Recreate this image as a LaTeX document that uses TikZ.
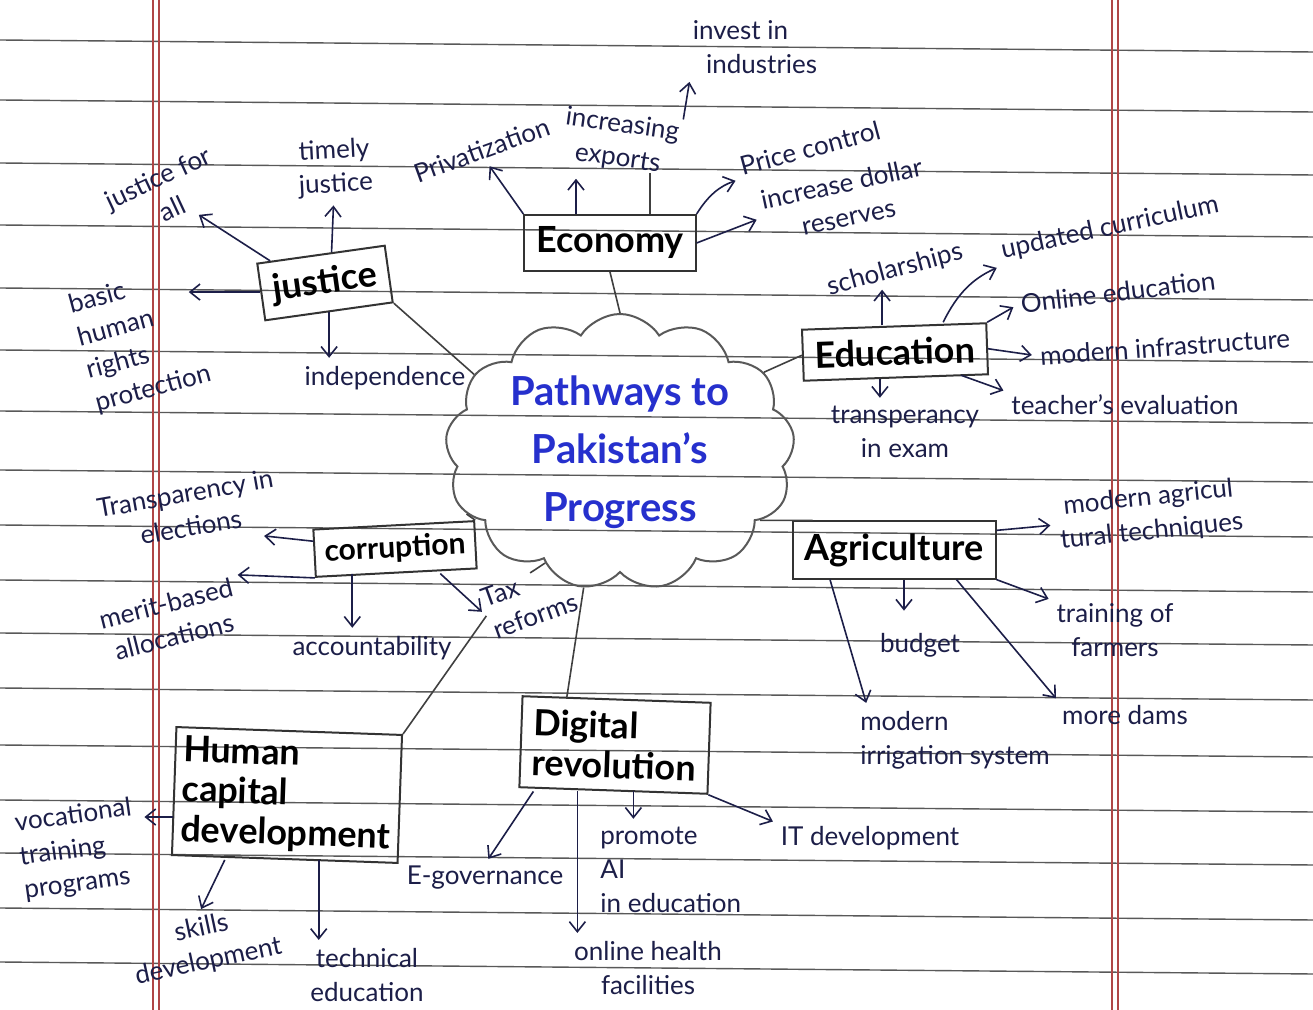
\documentclass[tikz,border=0pt]{standalone}
\usepackage{fontspec}
\setmainfont{Lato}
\usepackage{xcolor}
\usetikzlibrary{arrows.meta,%
                shapes.symbols}
\definecolor{pen}{RGB}{28,30,72}
\definecolor{inkblue}{RGB}{38,48,205}
\definecolor{marginred}{RGB}{175,70,70}

\begin{document}
\begin{tikzpicture}[x=0.5pt,y=-0.5pt,
    topic/.style={draw=black!80, line width=1pt, inner sep=6pt, align=left,
        font=\fontsize{18}{20}\selectfont\bfseries},
    leaf/.style={text=pen, inner sep=1pt, align=center,
        font=\fontsize{13}{17}\selectfont},
    link/.style={draw=black!75, line width=0.8pt},
    arr/.style={draw=pen, line width=0.8pt, shorten >=3pt,
        -{Straight Barb[length=5pt,width=8pt]}},
    ]
    \useasboundingbox (0,0) rectangle (1313,1010);
    \fill[white] (0,0) rectangle (1313,1010);
    \foreach \y in {40,100,163,225,288,350,411,470,525,580,633,688,745,800,853,908,962}
        \draw[black!65, line width=0.7pt] (0,\y) -- (1313,{\y+12});
    \foreach \x in {153,159,1112,1118}
        \draw[marginred, line width=0.6pt] (\x,0) -- (\x,1010);

    \node[cloud, cloud puffs=13, cloud puff arc=115, cloud ignores aspect,
          draw=black!65, line width=1pt, minimum width=154pt, minimum height=138pt,
          text=inkblue, align=center, font=\fontsize{20}{29}\selectfont\bfseries]
          (hub) at (620,452) {Pathways to\\Pakistan's\\Progress};

    \node[topic] (econ) at (610,243) {Economy};
    \node[topic, rotate=8] (justice) at (325,283) {justice};
    \node[topic, rotate=2] (edu) at (895,352) {Education};
    \node[topic, rotate=3, inner sep=5pt, font=\fontsize{15}{17}\selectfont\bfseries]
          (corr) at (395,549) {corruption};
    \node[topic] (agri) at (894,550) {Agriculture};
    \node[topic, rotate=-2] (dig) at (615,745) {Digital\\revolution};
    \node[topic, rotate=-2, inner sep=4pt] (hcd) at (287,795) {Human\\capital\\development};

    \node[leaf, align=left] (invest) at (755,47) {invest in\\\ \ industries};
    \node[leaf, rotate=-8] (exports) at (620,142) {increasing\\exports};
    \node[leaf, rotate=15] (price) at (810,148) {Price control};
    \node[leaf, rotate=20] (privat) at (482,150) {Privatization};
    \node[leaf, rotate=12] (dollar) at (845,200) {increase dollar\\reserves};

    \node[leaf, rotate=25] (jall) at (165,193) {justice for\\all};
    \node[leaf, rotate=3] (timely) at (335,168) {timely\\justice};
    \node[leaf, rotate=15, align=left] (rights) at (140,340) {basic\\human\\rights\\protection};
    \node[leaf] (indep) at (385,378) {independence};

    \node[leaf, rotate=15] (scholar) at (895,270) {scholarships};
    \node[leaf, rotate=12] (curric) at (1110,228) {updated curriculum};
    \node[leaf, rotate=7] (online) at (1118,292) {Online education};
    \node[leaf, rotate=4] (infra) at (1165,347) {modern infrastructure};
    \node[leaf] (teacher) at (1125,405) {teacher's evaluation};
    \node[leaf] (transp) at (905,432) {transperancy\\in exam};

    \node[leaf, rotate=10] (elect) at (188,510) {Transparency in\\elections};
    \node[leaf, rotate=14] (merit) at (170,620) {merit-based\\allocations};
    \node[leaf] (account) at (372,648) {accountability};
    \node[leaf, rotate=20, align=left] (tax) at (530,600) {Tax\\reforms};

    \node[leaf, rotate=6] (tech) at (1150,515) {modern agricul\\tural techniques};
    \node[leaf] (budget) at (920,645) {budget};
    \node[leaf] (farmers) at (1115,630) {training of\\farmers};
    \node[leaf] (dams) at (1125,715) {more dams};
    \node[leaf, align=left] (irrig) at (955,740) {modern\\irrigation system};

    \node[leaf] (egov) at (485,878) {E-governance};
    \node[leaf] (health) at (648,968) {online health\\facilities};
    \node[leaf, align=left, anchor=west] (ai) at (598,870) {promote\\AI\\in education};
    \node[leaf] (it) at (870,838) {IT development};

    \node[leaf, rotate=8, align=left] (voc) at (78,850) {vocational\\training\\programs};
    \node[leaf, rotate=12] (skills) at (205,945) {skills\\development};
    \node[leaf] (technical) at (367,975) {technical\\education};

    \draw[link] (hub.90) -- (econ.south);
    \draw[link] (hub.152) -- (justice.south east);
    \draw[link] (hub.29) -- (edu.west);
    \draw[link] (hub.202) -- (corr.north east);
    \draw[link] (hub.334) -- (agri.160);
    \draw[link] (hub.255) -- ([xshift=-25pt]dig.north);
    \draw[link] (hub.236) -- ([xshift=5pt]tax.north);
    \draw[link] (tax.west) -- (hcd.north east);

    \draw[arr] (exports.north east) -- (invest.south west);
    \draw[arr] (econ.north west) -- (privat.south);
    \draw[arr] ([xshift=-17pt]econ.north) -- ([xshift=-17pt]econ.north |- exports.south);
    \draw[link] ([xshift=20pt]econ.north) -- ([xshift=20pt]econ.north |- exports.south);
    \draw[arr] (econ.north east) to[bend left=20] (price.south west);
    \draw[arr] (econ.east) -- (dollar.west);

    \draw[arr] (justice.150) -- (jall);
    \draw[arr] (justice.70) -- (timely);
    \draw[arr] (justice.west) -- (justice.west -| rights.north east);
    \draw[arr] (justice.south) -- (justice.south |- indep.north);

    \draw[arr] ([xshift=-6pt]edu.north) -- ([xshift=-6pt]edu.north |- scholar.south);
    \draw[arr] ([xshift=-22pt]edu.north east) to[bend left=20] (curric.south west);
    \draw[arr] (edu.north east) -- (online.west);
    \draw[arr] (edu.east) -- (infra.west);
    \draw[arr] ([xshift=-14pt]edu.south east) -- (teacher.north west);
    \draw[arr] ([xshift=-8pt]edu.south) -- ([xshift=-8pt]edu.south |- transp.north);

    \draw[arr] ([yshift=6pt]corr.west) -- ([yshift=9pt,xshift=-10pt]corr.west -| elect.east);
    \draw[arr] (corr.south west) -- (merit.north east);
    \draw[arr] ([xshift=-22pt]corr.south) -- ([xshift=-22pt]corr.south |- account.north);
    \draw[arr] ([xshift=22pt]corr.south) -- (tax.west);

    \draw[arr] ([yshift=-5pt]agri.north east) -- (tech.west);
    \draw[arr, shorten >=10pt] ([xshift=5pt]agri.south) -- ([xshift=5pt]agri.south |- budget.north);
    \draw[arr] (agri.south east) -- (farmers.north west);
    \draw[arr] ([xshift=-20pt]agri.south east) -- (dams.north west);
    \draw[arr] ([xshift=-32pt]agri.south) -- ([xshift=5pt]irrig.north west);

    \draw[arr] ([xshift=-40pt]dig.south) -- (egov.north);
    \draw[arr] ([xshift=-18pt]dig.south) -- ([xshift=-18pt]dig.south |- health.north);
    \draw[arr] ([xshift=10pt]dig.south) -- ([xshift=10pt]dig.south |- ai.north);
    \draw[arr] (dig.south east) -- (it.north west);

    \draw[arr] ([yshift=-13pt]hcd.west) -- ([yshift=-13pt]hcd.west -| voc.east);
    \draw[arr] ([xshift=-30pt]hcd.south) -- (skills.north);
    \draw[arr] ([xshift=17pt]hcd.south) -- ([xshift=17pt]hcd.south |- technical.north);
\end{tikzpicture}
\end{document}
